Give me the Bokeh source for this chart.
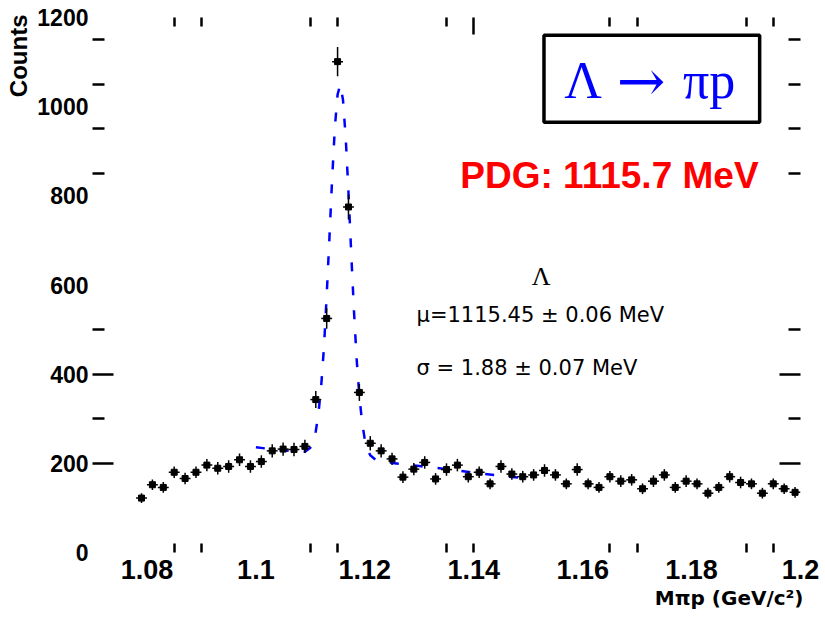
import numpy as np
from bokeh.plotting import figure
from bokeh.models import LinearAxis, FixedTicker, Range1d, Label, BoxAnnotation, ColumnDataSource, Title
from bokeh.embed import file_html
from bokeh.resources import INLINE

# ---------------- data ----------------
bin_centers = [1.079, 1.081, 1.083, 1.085, 1.087, 1.089, 1.091, 1.093, 1.095, 1.097,
               1.099, 1.101, 1.103, 1.105, 1.107, 1.109, 1.111, 1.113, 1.115, 1.117,
               1.119, 1.121, 1.123, 1.125, 1.127, 1.129, 1.131, 1.133, 1.135, 1.137,
               1.139, 1.141, 1.143, 1.145, 1.147, 1.149, 1.151, 1.153, 1.155, 1.157,
               1.159, 1.161, 1.163, 1.165, 1.167, 1.169, 1.171, 1.173, 1.175, 1.177,
               1.179, 1.181, 1.183, 1.185, 1.187, 1.189, 1.191, 1.193, 1.195, 1.197,
               1.199]
counts = [122, 152, 146, 180, 166, 180, 196, 189, 193, 208,
          193, 204, 228, 232, 231, 238, 343, 525, 1101, 775,
          359, 245, 228, 210, 169, 187, 202, 165, 186, 196,
          170, 180, 154, 193, 176, 170, 174, 184, 174, 154,
          186, 154, 146, 170, 160, 163, 143, 160, 174, 146,
          160, 154, 133, 146, 170, 157, 154, 133, 154, 143,
          135]
count_errors = [11, 12, 12, 13, 13, 13, 14, 14, 14, 14,
                14, 14, 15, 15, 15, 15, 19, 23, 33, 28,
                19, 16, 15, 14, 13, 14, 14, 13, 14, 14,
                13, 13, 12, 14, 13, 13, 13, 14, 13, 12,
                14, 12, 12, 13, 13, 13, 12, 13, 13, 12,
                13, 12, 12, 12, 13, 13, 12, 12, 12, 12,
                12]
bin_half_width = 0.001

fit_x = [1.1000, 1.1020, 1.1040, 1.1060, 1.1080, 1.1090, 1.1100, 1.1105, 1.1110, 1.1115,
         1.1120, 1.1125, 1.1130, 1.1135, 1.1140, 1.1145, 1.1150, 1.1155, 1.1160, 1.1165,
         1.1170, 1.1175, 1.1180, 1.1185, 1.1190, 1.1195, 1.1200, 1.1205, 1.1210, 1.1220,
         1.1250, 1.1300, 1.1350, 1.1400, 1.1450, 1.1490]
fit_y = [236, 233, 231, 228, 225, 226, 235, 248, 272, 313,
         375, 460, 576, 705, 838, 953, 1027, 1050, 1015, 929,
         808, 673, 544, 434, 351, 293, 253, 231, 218, 208,
         201, 194, 187, 179, 172, 167]

x_tick_values = [1.08, 1.10, 1.12, 1.14, 1.16, 1.18, 1.20]
x_tick_labels = ["1.08", "1.1", "1.12", "1.14", "1.16", "1.18", "1.2"]
y_tick_values = [0, 200, 400, 600, 800, 1000, 1200]
x_minor_visible = [1.085, 1.09, 1.11, 1.115, 1.135, 1.14, 1.165, 1.17, 1.19, 1.195]
y_major_visible = [200, 400]
y_minor_visible = [300, 500, 850, 950, 1050, 1150]

decay_parts = ["Λ", "→", "πp"]          # "Λ → πp"
pdg_text = "PDG: 1115.7 MeV"
fit_name = "Λ"
mu_text = "μ=1115.45 ± 0.06 MeV"
sigma_text = "σ = 1.88 ± 0.07 MeV"
x_title = "Mπp (GeV/c²)"
y_title = "Counts"

# ---------------- figure ----------------
p = figure(width=825, height=617, x_range=Range1d(1.07, 1.2), y_range=Range1d(0, 1200),
           x_axis_location=None, y_axis_location=None,
           output_backend="svg", toolbar_location=None,
           min_border_left=90, min_border_right=25, min_border_top=17, min_border_bottom=65)
p.outline_line_color = None
p.xgrid.visible = False
p.ygrid.visible = False
p.background_fill_color = "white"
p.border_fill_color = "white"


def tick_axis(ticks, minor, major_len, minor_len):
    return LinearAxis(ticker=FixedTicker(ticks=ticks, minor_ticks=minor),
                      major_tick_in=major_len, major_tick_out=0,
                      minor_tick_in=minor_len, minor_tick_out=0,
                      major_tick_line_width=2.5, minor_tick_line_width=2.5,
                      major_tick_line_color="black", minor_tick_line_color="black",
                      axis_line_color=None, major_label_text_color=None,
                      major_label_text_font_size="0px", major_label_standoff=0,
                      axis_label_standoff=0)

# inner tick-only axes
p.add_layout(tick_axis(y_major_visible, y_minor_visible, 21, 12), "left")
p.add_layout(tick_axis(y_major_visible, y_minor_visible, 21, 12), "right")
p.add_layout(tick_axis([1.14], [t for t in x_minor_visible if t != 1.14], 17, 9), "above")

# labelled axes
yl = LinearAxis(ticker=FixedTicker(ticks=y_tick_values),
                major_tick_in=0, major_tick_out=0, minor_tick_line_color=None,
                axis_line_color=None, major_label_standoff=4,
                major_label_text_font="Liberation Sans", major_label_text_font_style="bold",
                major_label_text_font_size="23px", major_label_text_color="black")
p.add_layout(yl, "left")

xl = LinearAxis(ticker=FixedTicker(ticks=x_tick_values, minor_ticks=x_minor_visible),
                major_tick_in=0, major_tick_out=0,
                minor_tick_in=9, minor_tick_out=0, minor_tick_line_width=2.5,
                minor_tick_line_color="black",
                axis_line_color=None, major_label_standoff=7,
                major_label_overrides=dict(zip(x_tick_values, x_tick_labels)),
                major_label_text_font="Liberation Sans", major_label_text_font_style="bold",
                major_label_text_font_size="27px", major_label_text_color="black")
p.add_layout(xl, "below")

# axis titles (placed at the ends, as in the reference)
p.add_layout(Title(text=y_title, align="right", text_font="Liberation Sans",
                   text_font_style="bold", text_font_size="24px", text_color="black",
                   standoff=5, offset=-3), "left")
p.add_layout(Title(text=x_title, align="right", text_font="DejaVu Sans",
                   text_font_style="bold", text_font_size="20px", text_color="black",
                   standoff=4, offset=-3), "below")

# ---------------- fit curve ----------------
p.line(fit_x, fit_y, line_color="#0000ff", line_width=2.5, line_dash="9 15")

# ---------------- data points ----------------
xc = np.array(bin_centers)
yc = np.array(counts)
ye = np.array(count_errors)
src = ColumnDataSource(dict(x=xc, y=yc, x0=xc - bin_half_width, x1=xc + bin_half_width,
                            y0=yc - ye, y1=yc + ye))
p.segment(x0="x0", y0="y", x1="x1", y1="y", source=src, line_color="black", line_width=1.5)
p.segment(x0="x", y0="y0", x1="x", y1="y1", source=src, line_color="black", line_width=1.5)
p.scatter(x="x", y="y", source=src, marker="square", size=6, fill_color="black",
          line_color="black")

# ---------------- annotations ----------------
box = BoxAnnotation(left=1.1529, right=1.1925, top=1160, bottom=965,
                    fill_color="white", fill_alpha=1.0, line_color="black",
                    line_alpha=1.0, line_width=3.5)
p.add_layout(box)
p.add_layout(Label(x=1.1601, y=1058, text=decay_parts[0], text_font="Liberation Serif",
                   text_font_size="52px", text_color="#0000ff", text_align="center",
                   text_baseline="alphabetic"))
p.add_layout(Label(x=1.1707, y=1058, text=decay_parts[1], text_font="DejaVu Serif",
                   text_font_size="58px", text_color="#0000ff", text_align="center",
                   text_baseline="alphabetic"))
p.add_layout(Label(x=1.1832, y=1058, text=decay_parts[2], text_font="Liberation Serif",
                   text_font_size="52px", text_color="#0000ff", text_align="center",
                   text_baseline="alphabetic"))
p.add_layout(Label(x=1.1923, y=846, text=pdg_text, text_font="Liberation Sans",
                   text_font_style="bold", text_font_size="37px", text_color="#ff0000",
                   text_align="right", text_baseline="alphabetic"))
p.add_layout(Label(x=1.1524, y=619, text=fit_name, text_font="Liberation Serif",
                   text_font_size="26px", text_color="black", text_align="center",
                   text_baseline="alphabetic"))
p.add_layout(Label(x=1.1295, y=532, text=mu_text, text_font="DejaVu Sans",
                   text_font_size="21px", text_color="black", text_align="left",
                   text_baseline="alphabetic"))
p.add_layout(Label(x=1.1295, y=413, text=sigma_text, text_font="DejaVu Sans",
                   text_font_size="21px", text_color="black", text_align="left",
                   text_baseline="alphabetic"))

open("out.html", "w").write(file_html(p, INLINE))
